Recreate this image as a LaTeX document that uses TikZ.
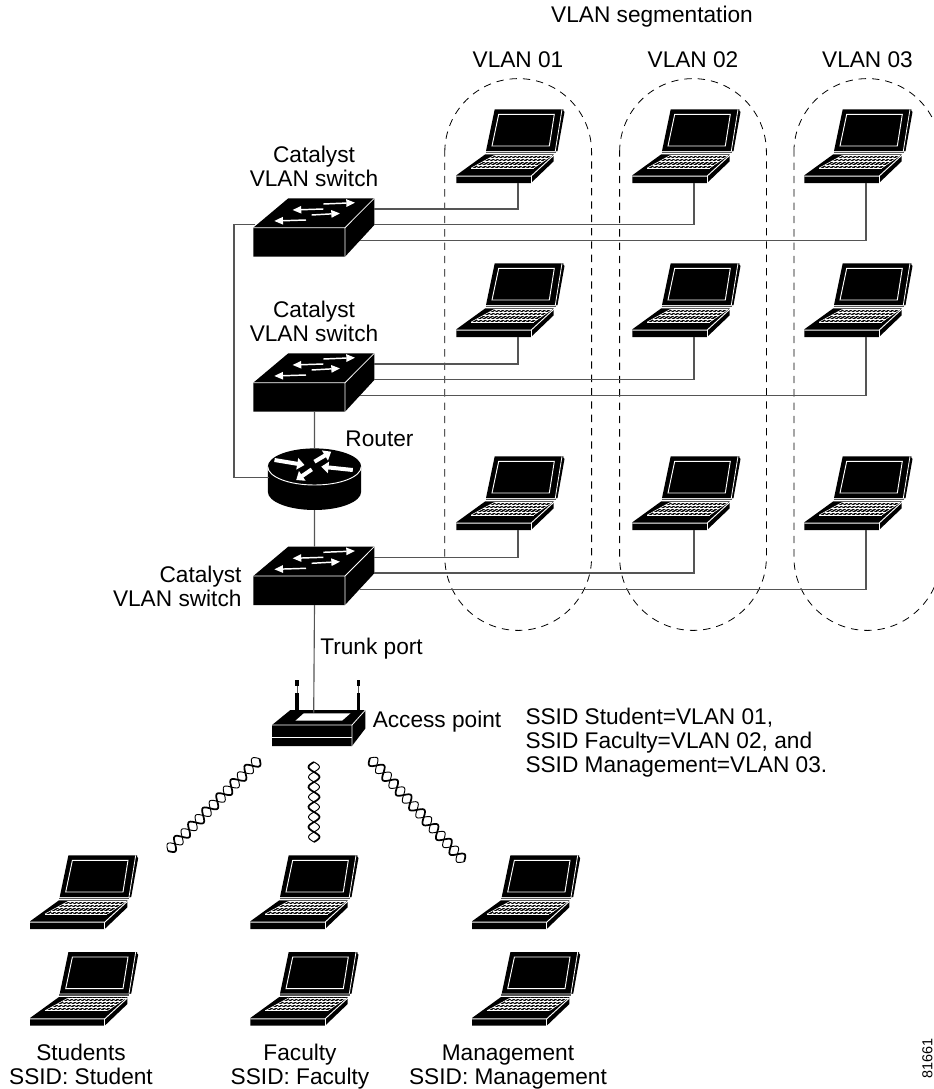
\documentclass[tikz,border=0pt]{standalone}
\usepackage{fontspec}
\setmainfont{Liberation Sans}
\usetikzlibrary{arrows.meta}

\definecolor{wiregray}{HTML}{555555}

\tikzset{every picture/.style={line width=0.75pt}}
\tikzset{
  wire/.style={draw=wiregray,line width=0.85pt},
  vlanzone/.style={draw=black,line width=0.6pt,dash pattern=on 5.5pt off 4.5pt},
  lbl/.style={inner sep=0.75pt,align=center,font=\fontsize{17}{18}\selectfont},
  lblleft/.style={inner sep=0.75pt,align=left,font=\fontsize{17}{18}\selectfont},
  swarrow/.style={draw=white,line width=1.1pt,-{Triangle[length=6.5pt,width=5.5pt]}},
  rtrarrow/.style={draw=white,line width=3pt,-{Triangle[length=5.5pt,width=8.5pt]}},
  pics/laptop/.style={code={
    \coordinate (-port) at (0,0);
    %Shape: lid
    \fill[black] (-23.3,-73.7) -- (45.5,-73.7) -- (39,-32) -- (-32,-32) -- cycle;
    \fill[black] (44,-73.7) -- (46.5,-71) -- (39.5,-32) -- (37.3,-32) -- cycle;
    \draw[white,line width=0.6pt] (44,-73.7) -- (37.3,-32);
    \draw[white,line width=0.7pt] (-19.3,-68.7) -- (36.3,-68.7) -- (31.3,-37) -- (-26,-37) -- cycle;
    \draw[wiregray,line width=1.1pt] (-32.5,-30.6) -- (37.5,-30.6);
    %Shape: base
    \fill[black] (-32.7,-28.7) -- (35.7,-28.7) -- (35.7,-21.7) -- (13,0) -- (-61.7,0) -- (-61.7,-7.7) -- cycle;
    \draw[white,line width=0.7pt] (-61.7,-6.8) -- (13,-6.8) -- (35.7,-27.7);
    \draw[white,line width=0.6pt] (13,-6.8) -- (13,0);
    %Shape: keys
    \foreach \k in {0,...,4}
      \draw[white,line width=0.45pt] ({-23.3-\k*5.85},{-27.8+\k*3.2}) -- ({34.3-\k*4.65},{-27.8+\k*3.2});
    \foreach \c in {0,...,14}
      \draw[white,line width=0.45pt] ({-23.3+\c*57.6/14},-27.8) -- ({-46.7+\c*62.4/14},-15);
  }},
  pics/vswitch/.style={code={
    \coordinate (-p1) at (121,-18.7);
    \coordinate (-p2) at (121,-3);
    \coordinate (-p3) at (106.7,13.2);
    \coordinate (-top) at (61.2,-29.4);
    \coordinate (-bot) at (61.2,29);
    \coordinate (-lft) at (2,-3.4);
    \fill[black] (0,0) -- (35,-29.4) -- (121,-29.4) -- (121,-2.7) -- (91.7,29) -- (0,29) -- cycle;
    \draw[white,line width=0.6pt] (0,0) -- (91.7,0) -- (91.7,29) (91.7,0) -- (121,-29.4);
    \draw[swarrow] (70,-23.7) -- (101.7,-25);
    \draw[swarrow] (70,-18.7) -- (39.3,-17.7);
    \draw[swarrow] (58.3,-12.7) -- (86.7,-14.3);
    \draw[swarrow] (52.7,-7.7) -- (21,-6.7);
  }},
  pics/router/.style={code={
    \coordinate (-top) at (0,-18.3);
    \coordinate (-bot) at (0,43.3);
    \coordinate (-lft) at (-46,10.6);
    \fill[black] (-46.7,0) -- (-46.7,25) arc[x radius=46.7,y radius=18.3,start angle=180,end angle=0] -- (46.7,0) arc[x radius=46.7,y radius=18.3,start angle=0,end angle=-180] -- cycle;
    \draw[white,line width=0.7pt] (-46.7,0) arc[x radius=46.7,y radius=18.3,start angle=180,end angle=0];
    \draw[rtrarrow] (-40,-6.7) -- (-10,-1.7);
    \draw[rtrarrow] (0,-5) -- (16.7,-15);
    \draw[rtrarrow] (38.3,3.3) -- (6.7,0);
    \draw[rtrarrow] (-2.7,2.7) -- (-18.3,13.3);
  }},
  pics/accesspt/.style={code={
    \coordinate (-port) at (0,0);
    \fill[black] (-41.7,12.3) -- (-23.3,-2.7) -- (51.7,-2.7) -- (51.7,15.7) -- (38.3,33.3) -- (-41.7,33.3) -- cycle;
    \draw[white,line width=0.6pt] (-41.7,12.3) -- (38.3,12.3) -- (38.3,33.3) (38.3,12.3) -- (51.7,-2.7);
    \draw[white,line width=1pt] (-41.7,25) -- (38.3,25);
    \fill[white] (-18.3,8) -- (-10,0.7) -- (36.7,0.7) -- (28.3,8) -- cycle;
    \foreach \ax in {-16.7,45} {
      \fill[black] ({\ax-1.7},-19.3) rectangle ({\ax+1.7},-2.7);
      \draw[wiregray,line width=0.7pt] (\ax,-27) -- (\ax,-19.3);
      \fill[black] ({\ax-1.7},-32.7) rectangle ({\ax+1.7},-27);
    }
  }},
  pics/twist/.style={code={
    \draw[black,line width=1.3pt] plot[domain=0:#1,samples=#1*8,smooth] (\x*10,{5.5*sin(\x*180)});
    \draw[black,line width=0.7pt] plot[domain=0:#1,samples=#1*8,smooth] (\x*10,{-5.5*sin(\x*180)});
  }},
}

\begin{document}
\begin{tikzpicture}[x=0.75pt,y=-0.75pt]
%set diagram left start at 0, and has height of 1089
\useasboundingbox (0,0) rectangle (934,1089);

%Shape: VLAN zones
\foreach \cx in {518.2,693,867.3}
  \draw[vlanzone] ({\cx-73.4},152) arc[radius=73.4,start angle=180,end angle=360] -- ({\cx+73.4},557) arc[radius=73.4,start angle=0,end angle=180] -- cycle;

%Shape: laptops in the VLAN rows
\pic (lapa1) at (518,183) {laptop};
\pic (lapa2) at (694,183) {laptop};
\pic (lapa3) at (866,183) {laptop};
\pic (lapb1) at (518,337) {laptop};
\pic (lapb2) at (694,337) {laptop};
\pic (lapb3) at (866,337) {laptop};
\pic (lapc1) at (518,530) {laptop};
\pic (lapc2) at (694,530) {laptop};
\pic (lapc3) at (866,530) {laptop};

%Shape: laptops of the wireless groups
\pic (stud1) at (91.7,929) {laptop};
\pic (stud2) at (91.7,1025.7) {laptop};
\pic (fac1) at (312,929) {laptop};
\pic (fac2) at (312,1025.7) {laptop};
\pic (mgmt1) at (533.7,929) {laptop};
\pic (mgmt2) at (533.7,1025.7) {laptop};

%Shape: switches, router, access point
\pic (rtr) at (314.5,466.7) {router};
\pic (ap) at (313.7,712.7) {accesspt};
\pic (cata) at (253.3,227.7) {vswitch};
\pic (catb) at (253.3,382.7) {vswitch};
\pic (catc) at (253.3,576) {vswitch};

%Shape: wires
\draw[wire] (lapa1-port) |- (cata-p1);
\draw[wire] (lapa2-port) |- (cata-p2);
\draw[wire] (lapa3-port) |- (cata-p3);
\draw[wire] (lapb1-port) |- (catb-p1);
\draw[wire] (lapb2-port) |- (catb-p2);
\draw[wire] (lapb3-port) |- (catb-p3);
\draw[wire] (lapc1-port) |- (catc-p1);
\draw[wire] (lapc2-port) |- (catc-p2);
\draw[wire] (lapc3-port) |- (catc-p3);
\draw[wire] (catb-bot) -- (rtr-top);
\draw[wire] (rtr-bot) -- (catc-top);
\draw[wire] (catc-bot) -- (ap-port);
\draw[wire] (cata-lft) -- ++(-21.3,0) |- (rtr-lft);

%Shape: radio links
\pic[rotate=45.3] at (168,851) {twist=13};
\pic[rotate=-90] at (314,762) {twist=8};
\pic[rotate=-47.8] at (370,758) {twist=14};

% Text Node
\node[lbl] (seg) at (652,16.5) {VLAN segmentation};
% Text Node
\node[lbl] (vlana) at (518,60) {VLAN 01};
% Text Node
\node[lbl] (vlanb) at (693,60) {VLAN 02};
% Text Node
\node[lbl] (vlanc) at (867.5,60) {VLAN 03};
% Text Node
\node[lbl] (cattxta) at (314,166) {Catalyst\\VLAN switch};
% Text Node
\node[lbl] (cattxtb) at (314,321) {Catalyst\\VLAN switch};
% Text Node
\node[lbl,anchor=east,align=right] (cattxtc) at (243,586) {Catalyst\\VLAN switch};
% Text Node
\node[lbl] (rtrtxt) at (379.5,439) {Router};
% Text Node
\node[lbl] (trunk) at (371.5,649) {Trunk port};
% Text Node
\node[lbl] (aptxt) at (437,722) {Access point};
% Text Node
\node[lblleft,anchor=west] (ssidmap) at (524,743) {SSID Student=VLAN 01,\\SSID Faculty=VLAN 02, and\\SSID Management=VLAN 03.};
% Text Node
\node[lbl] (studtxt) at (81,1064) {Students\\SSID: Student};
% Text Node
\node[lbl] (factxt) at (300,1067) {Faculty\\SSID: Faculty};
% Text Node
\node[lbl] (mgmttxt) at (508,1067) {Management\\SSID: Management};
% Text Node
\node[inner sep=0.75pt,rotate=90,font=\fontsize{10.8}{13}\selectfont] (figno) at (927.5,1058.5) {81661};
\end{tikzpicture}
\end{document}
